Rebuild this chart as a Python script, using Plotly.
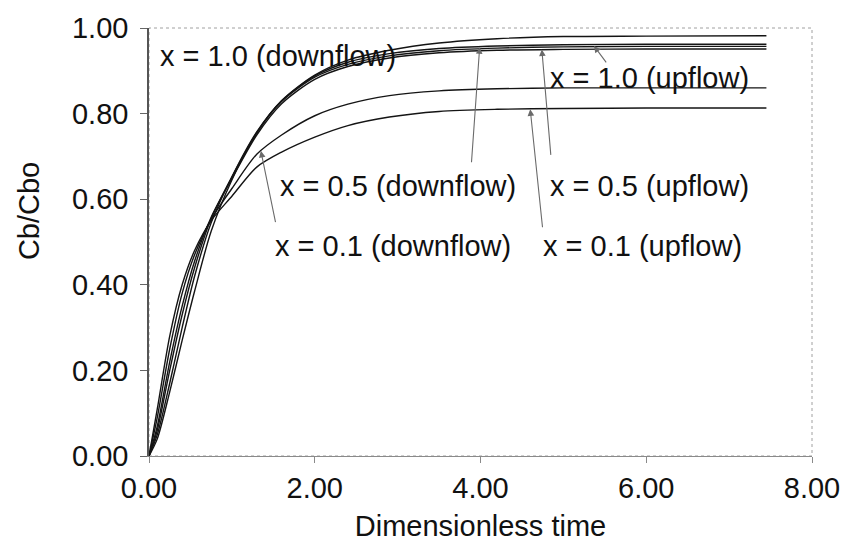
import plotly.graph_objects as go

# Dimensionless time samples shared by all breakthrough curves
t = [0.0, 0.1, 0.25, 0.4, 0.55, 0.75, 1.0, 1.3, 1.6, 2.0, 2.4, 2.9, 3.5, 4.2, 5.0, 6.0, 7.45]

# Cb/Cbo for each depth / flow direction
x10_down = [0.0, 0.04, 0.15, 0.27, 0.385, 0.525, 0.645, 0.755, 0.83, 0.89, 0.925, 0.948, 0.965, 0.975, 0.980, 0.981, 0.982]
x10_up   = [0.0, 0.05, 0.17, 0.30, 0.42, 0.545, 0.652, 0.757, 0.83, 0.888, 0.92, 0.94, 0.952, 0.958, 0.961, 0.962, 0.962]
x05_down = [0.0, 0.06, 0.20, 0.33, 0.44, 0.555, 0.652, 0.755, 0.828, 0.885, 0.915, 0.935, 0.947, 0.953, 0.956, 0.957, 0.957]
x05_up   = [0.0, 0.07, 0.22, 0.35, 0.455, 0.558, 0.648, 0.75, 0.823, 0.88, 0.91, 0.93, 0.942, 0.948, 0.950, 0.951, 0.951]
x01_down = [0.0, 0.09, 0.25, 0.38, 0.47, 0.553, 0.625, 0.705, 0.75, 0.795, 0.822, 0.842, 0.853, 0.858, 0.86, 0.86, 0.86]
x01_up   = [0.0, 0.11, 0.28, 0.40, 0.48, 0.55, 0.607, 0.675, 0.71, 0.745, 0.772, 0.792, 0.805, 0.81, 0.812, 0.813, 0.813]

series = [x10_down, x10_up, x05_down, x05_up, x01_down, x01_up]

x_ticks = [0, 2, 4, 6, 8]
x_tick_text = ["0.00", "2.00", "4.00", "6.00", "8.00"]
y_ticks = [0, 0.2, 0.4, 0.6, 0.8, 1.0]
y_tick_text = ["0.00", "0.20", "0.40", "0.60", "0.80", "1.00"]

# Curve labels: (text, left edge in t, centre in Cb/Cbo)
labels = [
    ("x = 1.0 (downflow)", 0.11, 0.935),
    ("x = 1.0 (upflow)", 4.81, 0.884),
    ("x = 0.5 (downflow)", 1.56, 0.632),
    ("x = 0.5 (upflow)", 4.82, 0.632),
    ("x = 0.1 (downflow)", 1.50, 0.49),
    ("x = 0.1 (upflow)", 4.73, 0.49),
]

# Leader arrows: (tail t, tail value, head t, head value)
arrows = [
    (5.53, 0.916, 5.37, 0.958),
    (4.85, 0.700, 4.74, 0.950),
    (3.89, 0.683, 3.99, 0.955),
    (4.75, 0.531, 4.60, 0.810),
    (1.53, 0.543, 1.35, 0.713),
]

FONT = "Liberation Sans, Arial, sans-serif"
FS = 29

fig = go.Figure()
for ys in series:
    fig.add_trace(go.Scatter(
        x=t, y=ys, mode="lines", line=dict(color="#141414", width=1.4, shape="spline", smoothing=0.8),
        showlegend=False, hoverinfo="skip",
    ))

for text, lx, ly in labels:
    fig.add_annotation(x=lx, y=ly, text=text, showarrow=False, xanchor="left", yanchor="middle",
                       font=dict(family=FONT, size=FS, color="#111"))

for tx, ty, hx, hy in arrows:
    fig.add_annotation(x=hx, y=hy, ax=tx, ay=ty, axref="x", ayref="y", text="",
                       showarrow=True, arrowhead=2, arrowsize=1.2, arrowwidth=1.1,
                       arrowcolor="#6a6a6a", standoff=0)

# dotted frame round the plotting area
fig.add_shape(type="rect", xref="paper", yref="paper", x0=0, y0=0, x1=1, y1=1,
              line=dict(color="#a0a0a0", width=1, dash="dot"), layer="below")

# y-axis title placed a little above the axis centre
fig.add_annotation(xref="paper", yref="paper", x=-0.182, y=0.573, xanchor="center", yanchor="middle",
                   text="Cb/Cbo", textangle=-90, showarrow=False,
                   font=dict(family=FONT, size=FS, color="#111"))

fig.update_layout(
    width=852, height=552,
    margin=dict(l=149, r=33, t=27, b=96),
    paper_bgcolor="white", plot_bgcolor="white",
    font=dict(family=FONT, size=FS, color="#111"),
    xaxis=dict(range=[0, 8], tickvals=x_ticks, ticktext=x_tick_text, showgrid=False, zeroline=False,
               showline=True, linecolor="#8a8a8a", linewidth=1, ticks="outside", ticklen=6,
               tickcolor="#8a8a8a",
               title=dict(text="Dimensionless time", standoff=12, font=dict(size=FS))),
    yaxis=dict(range=[0, 1], tickvals=y_ticks, ticktext=y_tick_text, showgrid=False, zeroline=False,
               showline=True, linecolor="#555", linewidth=1.5, ticks="outside", ticklen=7,
               tickcolor="#666", ticklabelstandoff=6),
)

fig.write_html("out.html")
